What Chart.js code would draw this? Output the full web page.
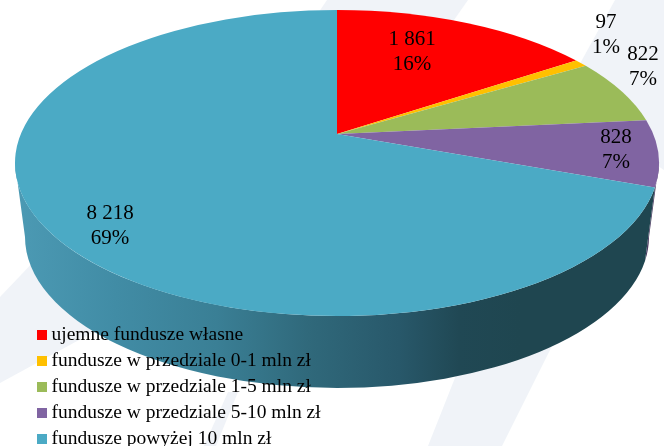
<!DOCTYPE html>
<html>
<head>
<meta charset="utf-8">
<script src="https://cdn.jsdelivr.net/npm/chart.js@4"></script>
<style>
  html, body { margin: 0; padding: 0; background: #fff; overflow: hidden; }
  #wrap { position: relative; width: 664px; height: 446px; overflow: hidden; }
  #bg, #c { position: absolute; left: 0; top: 0; }
  #legend { position: absolute; left: 37px; top: 321px; font: 19.5px "Liberation Serif", serif; color: #000; }
  #legend div { height: 26px; line-height: 26px; white-space: nowrap; }
  #legend i { display: inline-block; width: 10px; height: 10px; margin-right: 4.5px; }
</style>
</head>
<body>
<div id="wrap">
  <svg id="bg" width="664" height="446" fill="#f0f3f8">
    <polygon points="615,0 664,0 664,170 560,100"/>
    <polygon points="327,0 468,0 440,40 300,40"/>
    <polygon points="470,340 555,340 502,446 428,446"/>
    <polygon points="0,297 40,255 120,290 125,315 0,383"/>
    <polygon points="228,392 238,392 216,446 204,446"/>
  </svg>
  <canvas id="c" width="664" height="446"></canvas>
  <div id="legend"></div>
</div>
<script>
const categories = [
  'ujemne fundusze własne',
  'fundusze w przedziale 0-1 mln zł',
  'fundusze w przedziale 1-5 mln zł',
  'fundusze w przedziale 5-10 mln zł',
  'fundusze powyżej 10 mln zł'
];
const values = [1861, 97, 822, 828, 8218];
const colors = ['#ff0000', '#ffc000', '#9bbb59', '#8064a2', '#4baac5'];
// label centres, same order as values
const labelX = [412, 606, 643, 616, 110];
const labelY = [52, 35, 67, 150, 226];

// top face and bottom rim of the 3d pie
const top3d = {x: 337, y: 163, rx: 322, ry: 153};
const bottom3d = {x: 337, y: 237, rx: 312, ry: 151};
// perspective: pie centre sits above the middle of the ellipse
const persp = 0.825;

// library angle -> angle on the drawn ellipse (canvas convention)
function project(angle) {
  const t = (angle + Math.PI / 2) / 2;
  return 2 * Math.atan2(persp * Math.sin(t), Math.cos(t)) - Math.PI / 2;
}

Chart.ArcElement.prototype.draw = function (ctx) {
  const a0 = project(this.startAngle);
  const a1 = project(this.endAngle);
  // centre of the circle after perspective, on the chord at 3 o'clock
  const apexY = top3d.y + top3d.ry * Math.sin(project(0));
  ctx.save();
  ctx.fillStyle = this.options.backgroundColor;
  ctx.beginPath();
  ctx.moveTo(top3d.x, apexY);
  ctx.ellipse(top3d.x, top3d.y, top3d.rx, top3d.ry, 0, a0, a1);
  ctx.closePath();
  ctx.fill();
  ctx.restore();
};

const wall3d = {
  id: 'wall3d',
  beforeDatasetsDraw(chart) {
    const ctx = chart.ctx;
    const teal = ctx.createLinearGradient(15, 0, 520, 0);
    teal.addColorStop(0, '#4c9ab4');
    teal.addColorStop(0.2, '#418ca5');
    teal.addColorStop(0.4, '#3a7f95');
    teal.addColorStop(0.58, '#30697b');
    teal.addColorStop(0.76, '#28586a');
    teal.addColorStop(0.88, '#204854');
    teal.addColorStop(1, '#1f4650');
    const fills = [null, null, null, '#4b3b62', teal];
    chart.getDatasetMeta(0).data.forEach((arc, i) => {
      // only the front half (0..PI on the ellipse) shows a wall
      const a0 = Math.max(project(arc.startAngle), 0);
      const a1 = Math.min(project(arc.endAngle), Math.PI);
      if (a1 <= a0) return;
      ctx.save();
      ctx.fillStyle = fills[i] || colors[i];
      ctx.beginPath();
      ctx.ellipse(top3d.x, top3d.y, top3d.rx, top3d.ry, 0, a0, a1);
      ctx.ellipse(bottom3d.x, bottom3d.y, bottom3d.rx, bottom3d.ry, 0, a1, a0, true);
      ctx.closePath();
      ctx.fill();
      ctx.restore();
    });
  }
};

const total = values.reduce((a, b) => a + b, 0);
const pieLabels = {
  id: 'pieLabels',
  afterDatasetsDraw(chart) {
    const ctx = chart.ctx;
    ctx.save();
    ctx.font = '21px "Liberation Serif", serif';
    ctx.fillStyle = '#000';
    ctx.textAlign = 'center';
    ctx.textBaseline = 'middle';
    values.forEach((v, i) => {
      ctx.fillText(String(v).replace(/\B(?=(\d{3})+$)/g, ' '), labelX[i], labelY[i] - 13);
      ctx.fillText(Math.round(v / total * 100) + '%', labelX[i], labelY[i] + 12);
    });
    ctx.restore();
  }
};

new Chart(document.getElementById('c'), {
  type: 'pie',
  data: {
    labels: categories,
    datasets: [{data: values, backgroundColor: colors, borderWidth: 0}]
  },
  options: {
    responsive: false,
    animation: false,
    events: [],
    plugins: {legend: {display: false}, tooltip: {enabled: false}}
  },
  plugins: [wall3d, pieLabels]
});

const legend = document.getElementById('legend');
categories.forEach((name, i) => {
  const row = document.createElement('div');
  const box = document.createElement('i');
  box.style.background = colors[i];
  row.appendChild(box);
  row.appendChild(document.createTextNode(name));
  legend.appendChild(row);
});
</script>
</body>
</html>
